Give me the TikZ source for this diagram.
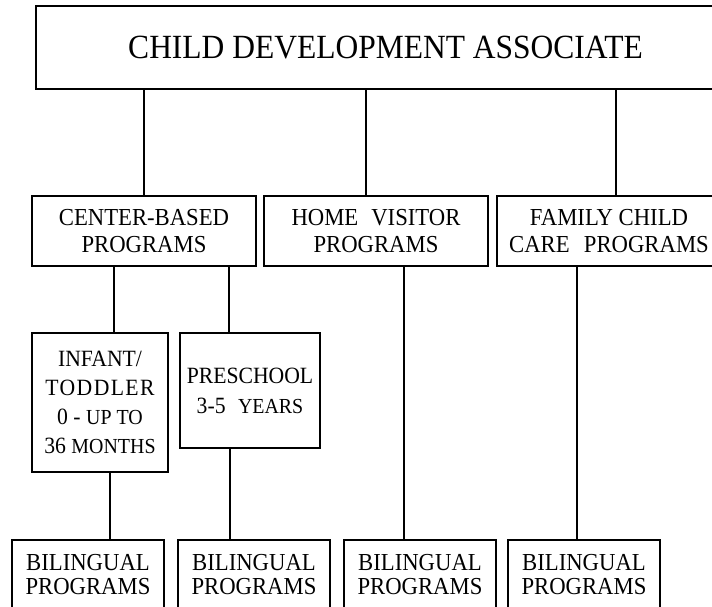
\documentclass[tikz,border=0pt]{standalone}
\usepackage{fontspec}
\setmainfont[FakeStretch=0.93]{Liberation Serif}
\begin{document}
\begin{tikzpicture}[x=1bp,y=-1bp,
  box/.style={draw,line width=1.9bp,inner sep=0pt,align=center,anchor=center},
  wire/.style={line width=1.9bp},
  midtxt/.style={font=\fontsize{24.5}{28}\selectfont},
  lowtxt/.style={font=\fontsize{24.5}{25}\selectfont}]
\useasboundingbox (0,0) rectangle (712,607);
\clip (0,0) rectangle (712,607);
\node[box,minimum width=699bp,minimum height=83bp,font=\fontsize{34}{36}\selectfont] (top) at (385.5,47.5) {CHILD DEVELOPMENT ASSOCIATE};
\node[box,midtxt,minimum width=224bp,minimum height=70bp] (cb) at (144,231) {CENTER-BASED\\PROGRAMS};
\node[box,midtxt,minimum width=224bp,minimum height=70bp] (hv) at (376,231) {HOME\hspace{0.3em} VISITOR\\PROGRAMS};
\node[box,midtxt,minimum width=224bp,minimum height=70bp] (fc) at (609,231) {FAMILY CHILD\\CARE\hspace{0.35em} PROGRAMS};
\node[box,font=\fontsize{23.4}{29}\selectfont,minimum width=136bp,minimum height=139bp] (it) at (100,402.5)
  {INFANT/\\{\addfontfeature{LetterSpace=6}TODDLER}\\0 - {\fontsize{21.5}{29}\selectfont UP TO}\\36 {\fontsize{21.5}{29}\selectfont MONTHS}};
\node[box,font=\fontsize{23.4}{30}\selectfont,minimum width=140bp,minimum height=115bp] (ps) at (250,390.5)
  {PRESCHOOL\\3-5\hspace{0.3em} {\fontsize{21.5}{30}\selectfont YEARS}};
\node[box,lowtxt,minimum width=152bp,minimum height=69bp] (b1) at (88,574.5) {BILINGUAL\\PROGRAMS};
\node[box,lowtxt,minimum width=152bp,minimum height=69bp] (b2) at (254,574.5) {BILINGUAL\\PROGRAMS};
\node[box,lowtxt,minimum width=152bp,minimum height=69bp] (b3) at (420,574.5) {BILINGUAL\\PROGRAMS};
\node[box,lowtxt,minimum width=152bp,minimum height=69bp] (b4) at (584,574.5) {BILINGUAL\\PROGRAMS};
\draw[wire] (top.south -| 144,0) -- (cb.north -| 144,0);
\draw[wire] (top.south -| 366,0) -- (hv.north -| 366,0);
\draw[wire] (top.south -| 616,0) -- (fc.north -| 616,0);
\draw[wire] (cb.south -| 114,0) -- (it.north -| 114,0);
\draw[wire] (cb.south -| 229,0) -- (ps.north -| 229,0);
\draw[wire] (it.south -| 110,0) -- (b1.north -| 110,0);
\draw[wire] (ps.south -| 230,0) -- (b2.north -| 230,0);
\draw[wire] (hv.south -| 404,0) -- (b3.north -| 404,0);
\draw[wire] (fc.south -| 577,0) -- (b4.north -| 577,0);
\end{tikzpicture}
\end{document}
